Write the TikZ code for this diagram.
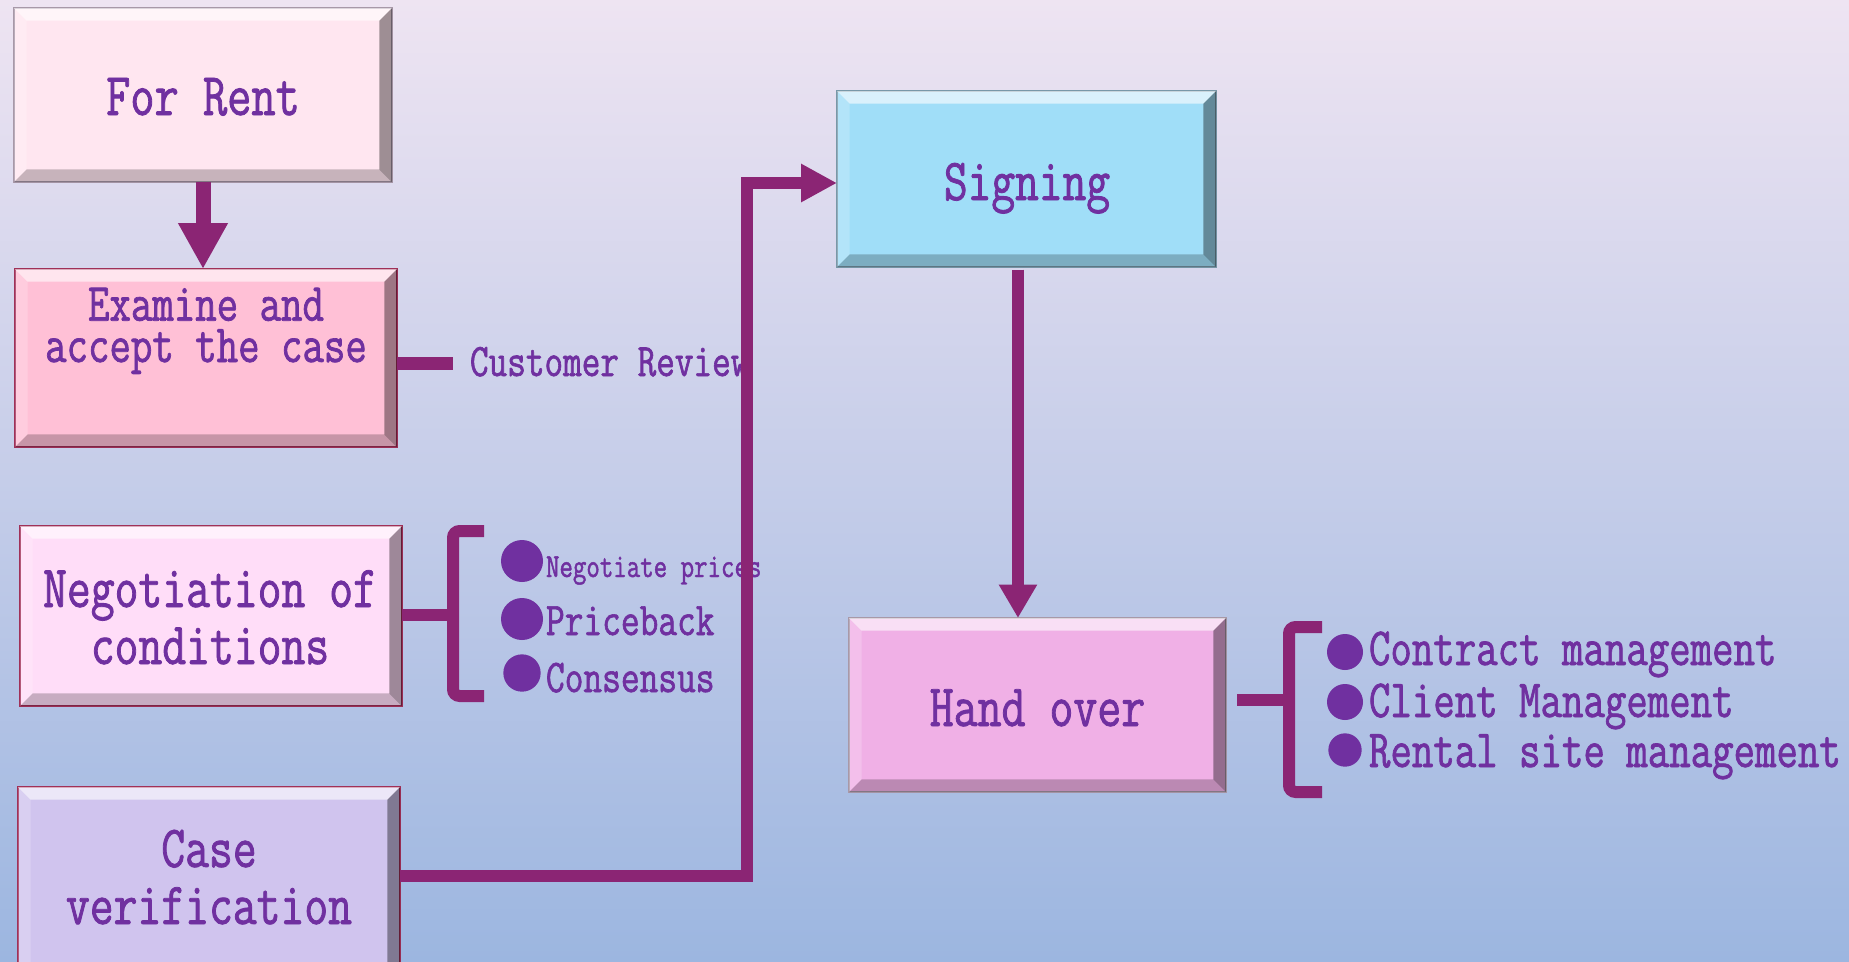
\documentclass[tikz,border=0pt]{standalone}
\usepackage{fontspec}
\usetikzlibrary{arrows.meta}
\newfontfamily\diafont[FakeStretch=0.775,FakeBold=1.3]{Latin Modern Mono}
\newcommand\F[2]{\diafont\fontsize{#1}{#2}\selectfont}
\definecolor{txtc}{HTML}{7030A0}
\definecolor{lnc}{HTML}{8B2574}
\definecolor{frc}{HTML}{FFE6F0}
\definecolor{exc}{HTML}{FFC0D6}
\definecolor{ngc}{HTML}{FFDDF8}
\definecolor{cvc}{HTML}{D0C4EE}
\definecolor{sgc}{HTML}{A0DEF8}
\definecolor{hoc}{HTML}{F0B0E6}
\definecolor{redb}{HTML}{A03058}
\definecolor{grayb}{HTML}{A898A8}
\definecolor{blueb}{HTML}{7898A8}
\definecolor{bgtop}{HTML}{EEE4F2}
\definecolor{bgmid}{HTML}{D8DAEF}
\definecolor{bgbot}{HTML}{9CB6E0}
\newlength\bw
\setlength\bw{9.5pt}
\newcommand\bevel[1]{%
 \fill[white,opacity=0.6] (#1.north west) -- (#1.north east) -- ([xshift=-\bw,yshift=-\bw]#1.north east) -- ([xshift=\bw,yshift=-\bw]#1.north west) -- cycle;
 \fill[white,opacity=0.2] (#1.north west) -- ([xshift=\bw,yshift=-\bw]#1.north west) -- ([xshift=\bw,yshift=\bw]#1.south west) -- (#1.south west) -- cycle;
 \fill[black,opacity=0.38] (#1.north east) -- (#1.south east) -- ([xshift=-\bw,yshift=\bw]#1.south east) -- ([xshift=-\bw,yshift=-\bw]#1.north east) -- cycle;
 \fill[black,opacity=0.22] (#1.south west) -- (#1.south east) -- ([xshift=-\bw,yshift=\bw]#1.south east) -- ([xshift=\bw,yshift=\bw]#1.south west) -- cycle;
}
\begin{document}
\begin{tikzpicture}[x=0.75pt,y=-0.75pt,
  box/.style={rectangle, inner sep=0pt, outer sep=0pt, line width=1.2pt},
  txt/.style={text=txtc, inner sep=0pt, outer sep=0pt, align=center},
  conn/.style={draw=lnc, line width=9pt, line cap=butt, line join=miter}]
\useasboundingbox (0,0) rectangle (1849,961);
\clip (0,0) rectangle (1849,961);
\shade[top color=bgtop, middle color=bgmid, bottom color=bgbot] (0,0) rectangle (1849,961);

% boxes
\node[box, fill=frc, draw=grayb, minimum width=283.5pt, minimum height=130.5pt] (forrent) at (203,95) {};
\bevel{forrent}
\node[box, fill=exc, draw=redb, minimum width=286.5pt, minimum height=133.5pt] (examine) at (206,358) {};
\bevel{examine}
\node[box, fill=ngc, draw=redb, minimum width=286.5pt, minimum height=135pt] (negot) at (211,616) {};
\bevel{negot}
\node[box, fill=cvc, draw=redb, minimum width=286.5pt, minimum height=141pt] (casev) at (209,881) {};
\bevel{casev}
\node[box, fill=sgc, draw=blueb, minimum width=284.25pt, minimum height=132pt] (signing) at (1026.5,179) {};
\bevel{signing}
\node[box, fill=hoc, draw=grayb, minimum width=282.75pt, minimum height=130.5pt] (handover) at (1037.5,705) {};
\bevel{handover}

% texts (base anchor = baseline of last line)
\node[txt, font=\F{45.5}{50}, anchor=base] (forrent-t) at (203,115) {For Rent};
\node[txt, font=\F{40.3}{31}, anchor=base] (examine-t) at (206,362) {Examine and\\accept the case};
\node[txt, font=\F{44.8}{42.75}, anchor=base] (negot-t) at (210,664) {Negotiation of\\conditions};
\node[txt, font=\F{44.8}{42.75}, anchor=base] (casev-t) at (209,924) {Case\\verification};
\node[txt, font=\F{44.6}{50}, anchor=base] (signing-t) at (1027,200) {Signing};
\node[txt, font=\F{45}{50}, anchor=base] (handover-t) at (1037.5,726) {Hand over};
\node[txt, font=\F{35}{40}, anchor=base west] (creview) at (470,376) {Customer Review};

\node[txt, font=\F{25.3}{30}, anchor=base west] (li1) at (546,577) {Negotiate prices};
\node[txt, font=\F{35.2}{40}, anchor=base west] (li2) at (546,635) {Priceback};
\node[txt, font=\F{35.2}{40}, anchor=base west] (li3) at (546,692) {Consensus};
\fill[txtc] (522,561) circle[radius=15.75pt];
\fill[txtc] (522,619) circle[radius=15.75pt];
\fill[txtc] (522,673) circle[radius=14pt];

\node[txt, font=\F{40.3}{45}, anchor=base west] (ri1) at (1369,665) {Contract management};
\node[txt, font=\F{40.3}{45}, anchor=base west] (ri2) at (1369,717) {Client Management};
\node[txt, font=\F{40.3}{45}, anchor=base west] (ri3) at (1369,767) {Rental site management};
\fill[txtc] (1345,652) circle[radius=13.5pt];
\fill[txtc] (1345,702) circle[radius=13.5pt];
\fill[txtc] (1345,750) circle[radius=12.5pt];

% connectors
\draw[conn, line width=11.25pt, -{Triangle[width=35pt,length=34.5pt]}] (forrent.south) -- (forrent.south |- examine.north);

\coordinate (crend) at (453,363);
\draw[conn, line width=9.75pt] (examine.east |- crend) -- (crend);

\coordinate (nbk) at (453,615);
\draw[conn] (negot.east |- nbk) -- (nbk);
\draw[conn, rounded corners=5pt] (484,531) -- (453,531) -- (453,696) -- (484,696);

\coordinate (cvy) at (747,876);
\draw[conn, -{Triangle[width=27pt,length=27pt]}] (casev.east |- cvy) -- (cvy) |- ([yshift=-3pt]signing.west);

\coordinate (sa) at ([xshift=-6.4pt]signing.south);
\draw[conn, -{Triangle[width=27pt,length=25pt]}] ([yshift=-2pt]sa) -- (sa |- handover.north);

\coordinate (hb) at (1289,700);
\draw[conn, shorten <=8.25pt] (handover.east |- hb) -- (hb);
\draw[conn, rounded corners=5pt] (1322,627) -- (1289,627) -- (1289,792) -- (1322,792);
\end{tikzpicture}
\end{document}
